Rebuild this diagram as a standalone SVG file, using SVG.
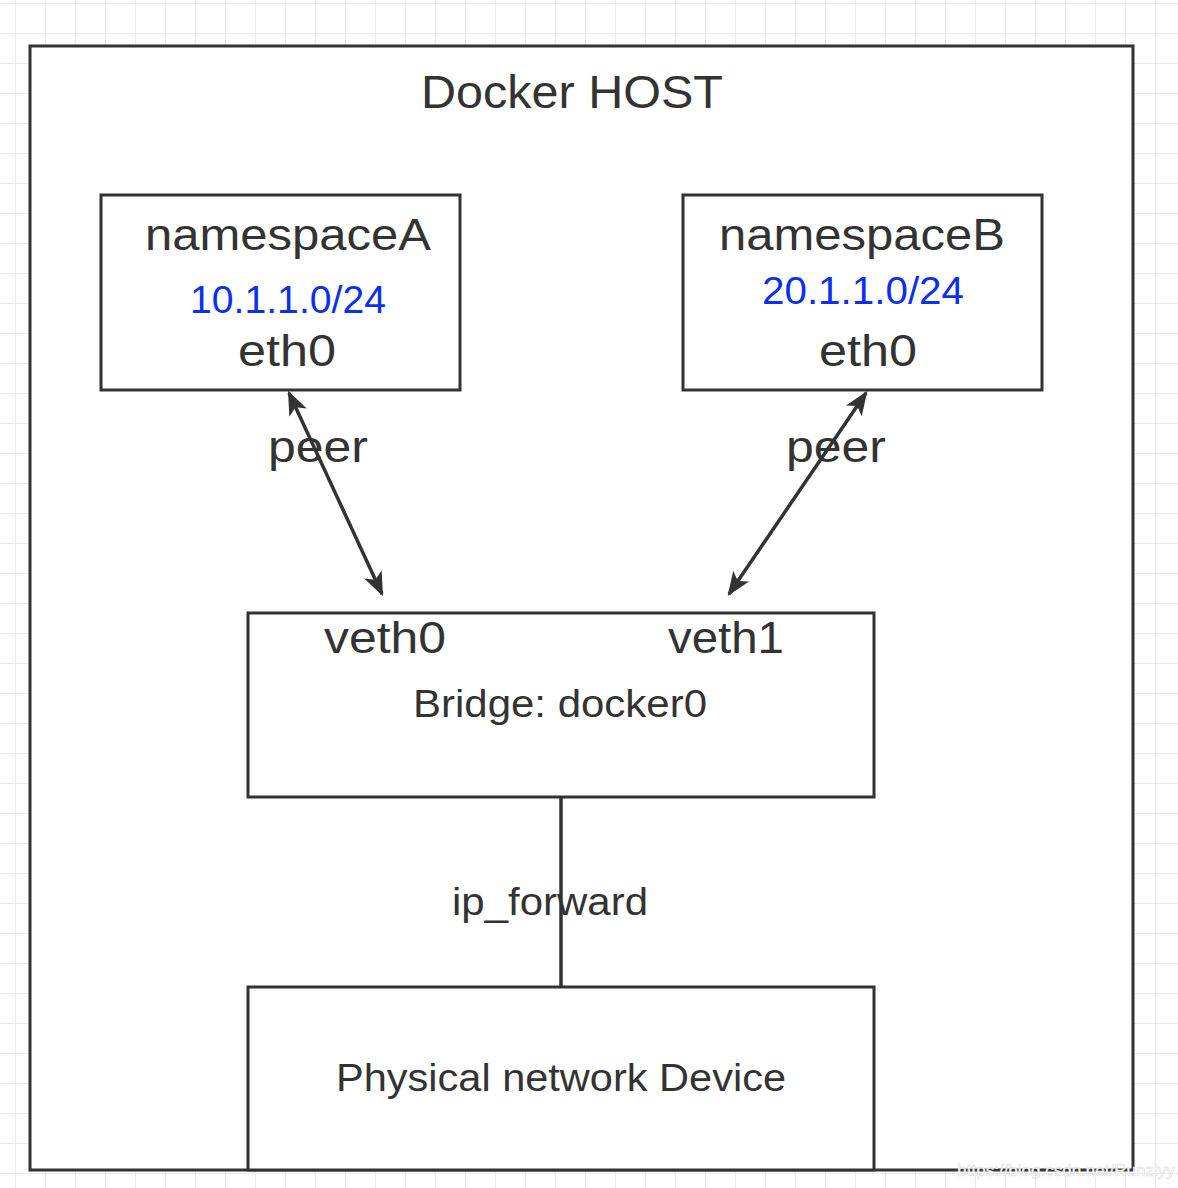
<svg xmlns="http://www.w3.org/2000/svg" width="1178" height="1188" viewBox="0 0 1178 1188">
<defs>
<pattern id="grid" x="15" y="3" width="30" height="30" patternUnits="userSpaceOnUse"><path d="M0 0H30M0 0V30" fill="none" stroke="#ebebeb" stroke-width="2"/></pattern>
<marker id="a" viewBox="0 0 10 10" refX="9" refY="5" markerWidth="24" markerHeight="24" markerUnits="userSpaceOnUse" orient="auto-start-reverse"><path d="M0 1L10 5L0 9L2.5 5Z" fill="#333"/></marker>
</defs>
<style>
.box{fill:#fff;stroke:#333;stroke-width:3}
.t{font-family:"Liberation Sans",Arial,sans-serif;fill:#333;text-anchor:middle}
.ip{font-family:"Liberation Sans",Arial,sans-serif;fill:#0a2ff0;text-anchor:middle;font-size:38px}
.c{stroke:#333;stroke-width:3.5;fill:none}
</style>
<rect width="1178" height="1188" fill="#fff"/>
<rect width="1178" height="1188" fill="url(#grid)"/>
<g id="host"><rect class="box" x="30" y="46" width="1103" height="1124"/><text class="t" x="572" y="108" font-size="46" textLength="302" lengthAdjust="spacingAndGlyphs">Docker HOST</text></g>
<g id="nsA"><rect class="box" x="101" y="195" width="359" height="195"/><text class="t" x="288" y="250" font-size="44" textLength="286" lengthAdjust="spacingAndGlyphs">namespaceA</text><text class="ip" x="288" y="313" textLength="196" lengthAdjust="spacingAndGlyphs">10.1.1.0/24</text><text class="t" x="287" y="366" font-size="44" textLength="98" lengthAdjust="spacingAndGlyphs">eth0</text></g>
<g id="nsB"><rect class="box" x="683" y="195" width="359" height="195"/><text class="t" x="862" y="250" font-size="44" textLength="286" lengthAdjust="spacingAndGlyphs">namespaceB</text><text class="ip" x="863" y="304" textLength="202" lengthAdjust="spacingAndGlyphs">20.1.1.0/24</text><text class="t" x="868" y="366" font-size="44" textLength="98" lengthAdjust="spacingAndGlyphs">eth0</text></g>
<g id="bridge"><rect class="box" x="248" y="613" width="626" height="184"/><text class="t" x="385" y="653" font-size="44" textLength="122" lengthAdjust="spacingAndGlyphs">veth0</text><text class="t" x="726" y="653" font-size="44" textLength="116" lengthAdjust="spacingAndGlyphs">veth1</text><text class="t" x="560" y="717" font-size="38" textLength="294" lengthAdjust="spacingAndGlyphs">Bridge: docker0</text></g>
<g id="phys"><rect class="box" x="248" y="987" width="626" height="183"/><text class="t" x="561" y="1091" font-size="38" textLength="450" lengthAdjust="spacingAndGlyphs">Physical network Device</text></g>
<g id="connectors">
<line class="c" x1="289" y1="393" x2="382" y2="594" marker-start="url(#a)" marker-end="url(#a)"/>
<line class="c" x1="866" y1="393" x2="729" y2="594" marker-start="url(#a)" marker-end="url(#a)"/>
<line class="c" x1="561" y1="797" x2="561" y2="987"/>
<text class="t" x="318" y="462" font-size="44" textLength="100" lengthAdjust="spacingAndGlyphs">peer</text>
<text class="t" x="836" y="462" font-size="44" textLength="100" lengthAdjust="spacingAndGlyphs">peer</text>
<text class="t" x="550" y="915" font-size="38" textLength="196" lengthAdjust="spacingAndGlyphs">ip_forward</text>
</g>
<text x="1066" y="1176" font-family="Liberation Sans,Arial,sans-serif" font-size="17" fill="#fff" stroke="#ddd" stroke-width="0.6" text-anchor="middle">https://blog.csdn.net/Runzlyy</text>
</svg>
